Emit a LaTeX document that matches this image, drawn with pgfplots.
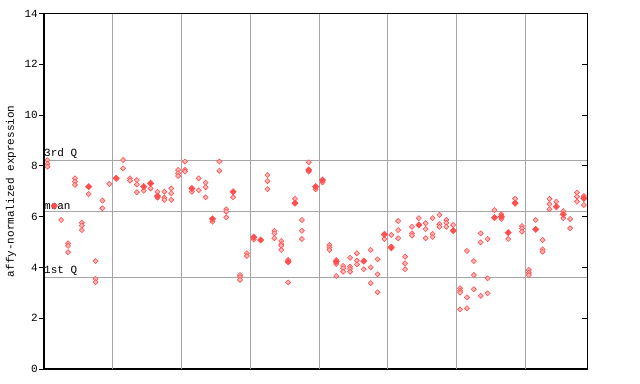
\documentclass[border=0pt]{standalone}
\usepackage{pgfplots}
\pgfplotsset{compat=1.18}
\usepackage{fontspec}
\setmainfont{Liberation Mono}
\definecolor{myred}{RGB}{255,80,80}
\definecolor{gridgray}{RGB}{166,166,166}
\begin{document}
\fontsize{11bp}{13bp}\selectfont
\begin{tikzpicture}
\useasboundingbox (0,0) rectangle (640bp,384bp);
\begin{axis}[
  at={(44bp,15bp)}, anchor=south west, scale only axis,
  width=543.3bp, height=355.5bp,
  xmin=-0.5, xmax=78.5, ymin=0, ymax=14,
  xtick=\empty, ytick={0,2,...,14},
  ytick pos=left, tick align=outside, major tick length=5bp,
  tick style={black, line width=0.8bp},
  axis line style={black, line width=1bp},
  /pgf/number format/assume math mode=true,
  yticklabel style={font=\fontsize{11bp}{13bp}\selectfont, inner sep=1bp},
  extra x ticks={9.5,19.5,29.5,39.5,49.5,59.5,69.5},
  extra x tick labels={},
  extra x tick style={grid=major, major tick length=0pt, grid style={gridgray, line width=1bp}},
  extra y ticks={3.61,6.21,8.23},
  extra y tick labels={},
  extra y tick style={grid=major, major tick length=0pt, grid style={gridgray, line width=1bp}},
  clip=false,
]
\addplot[only marks, mark=square*, mark size=1.8bp, mark options={rotate=45, draw=myred, fill=myred!40, line width=0.6bp}] coordinates {
(0,8.22)(0,8.08)(0,7.97)
(2,5.87)
(3,4.95)(3,4.85)(3,4.60)
(4,7.51)(4,7.38)(4,7.25)
(5,5.76)(5,5.65)(5,5.47)
(6,6.89)
(7,4.25)(7,3.55)(7,3.42)
(8,6.63)(8,6.33)
(9,7.29)
(11,8.23)(11,7.90)
(12,7.51)(12,7.42)
(13,7.44)(13,7.27)(13,6.96)
(14,7.02)
(15,7.11)
(16,6.98)(16,6.75)
(17,6.98)(17,6.75)(17,6.66)
(18,7.11)(18,6.92)(18,6.66)
(19,7.84)(19,7.71)(19,7.60)
(20,8.17)(20,7.84)(20,7.77)
(21,6.98)
(22,7.51)(22,7.04)
(23,7.34)(23,7.16)(23,6.76)
(24,5.80)
(25,8.17)(25,7.81)
(26,6.29)(26,6.20)(26,5.97)
(27,6.76)
(28,3.70)(28,3.62)(28,3.51)
(29,4.56)(29,4.45)
(30,5.10)
(32,7.64)(32,7.40)(32,7.08)
(33,5.44)(33,5.34)(33,5.15)
(34,5.04)(34,4.92)(34,4.86)(34,4.69)
(35,4.29)(35,3.41)
(36,6.70)
(37,5.87)(37,5.44)(37,5.12)
(38,8.14)(38,7.77)
(39,7.08)
(40,7.35)
(41,4.88)(41,4.78)(41,4.69)
(42,4.29)(42,4.14)(42,3.66)
(43,4.06)(43,3.97)(43,3.83)
(44,4.38)(44,4.03)(44,3.94)(44,3.83)
(45,4.56)(45,4.27)(45,4.12)
(46,3.93)
(47,4.69)(47,4.00)(47,3.38)
(48,4.32)(48,3.73)(48,3.02)
(49,5.12)
(50,5.28)(50,4.75)
(51,5.83)(51,5.47)(51,5.15)
(52,4.42)(52,4.16)(52,3.93)
(53,5.60)(53,5.34)(53,5.25)
(54,5.94)
(55,5.74)(55,5.51)(55,5.15)
(56,5.94)(56,5.32)(56,5.20)
(57,6.07)(57,5.70)(57,5.60)
(58,5.87)(58,5.76)(58,5.60)
(59,5.67)
(60,3.18)(60,3.08)(60,3.01)(60,2.35)
(61,4.65)(61,2.82)(61,2.39)
(62,4.25)(62,3.70)(62,3.14)
(63,5.34)(63,4.99)(63,2.88)
(64,5.12)(64,3.57)(64,2.98)
(65,6.26)
(66,6.09)(66,5.91)
(67,5.12)
(68,6.70)
(69,5.63)(69,5.54)(69,5.41)
(70,3.90)(70,3.79)(70,3.70)
(71,5.87)
(72,5.08)(72,4.71)(72,4.62)
(73,6.70)(73,6.49)(73,6.29)
(74,6.59)
(75,6.22)(75,5.94)
(76,5.91)(76,5.54)
(77,6.95)(77,6.79)(77,6.59)
(78,6.81)(78,6.46)
};
\addplot[only marks, mark=square*, mark size=2.2bp, mark options={rotate=45, draw=myred, fill=myred, line width=0.6bp}] coordinates {
(1,6.42)(6,7.18)(10,7.51)(14,7.18)(15,7.31)(16,6.81)(21,7.11)(24,5.91)(27,6.98)
(30,5.19)(31,5.08)(35,4.22)(36,6.53)(38,7.84)(39,7.18)(40,7.44)(42,4.23)(46,4.25)
(49,5.30)(50,4.80)(54,5.67)(59,5.45)(65,5.96)(66,6.00)(67,5.37)(68,6.53)(71,5.50)
(74,6.39)(75,6.09)(78,6.72)
};
\node[anchor=south west, inner sep=0pt, yshift=1.5bp] at (axis cs:-0.5,8.23) {3rd Q};
\node[anchor=south west, inner sep=0pt, yshift=1.5bp] at (axis cs:-0.5,6.21) {mean};
\node[anchor=south west, inner sep=0pt, yshift=1.5bp] at (axis cs:-0.5,3.61) {1st Q};
\node[rotate=90, anchor=center, xshift=0bp] at ([xshift=-33bp]rel axis cs:0,0.5) {affy-normalized expression};
\end{axis}
\begin{axis}[
  at={(44bp,15bp)}, anchor=south west, scale only axis,
  width=543.3bp, height=355.5bp,
  xmin=-0.5, xmax=78.5, ymin=0, ymax=14,
  xtick=\empty, ytick={2,4,...,12},
  ytick pos=right, tick align=inside, major tick length=5.5bp,
  tick style={black, line width=0.8bp},
  axis line style={black, line width=1bp},
  yticklabels={},
]
\end{axis}
\end{tikzpicture}
\end{document}
